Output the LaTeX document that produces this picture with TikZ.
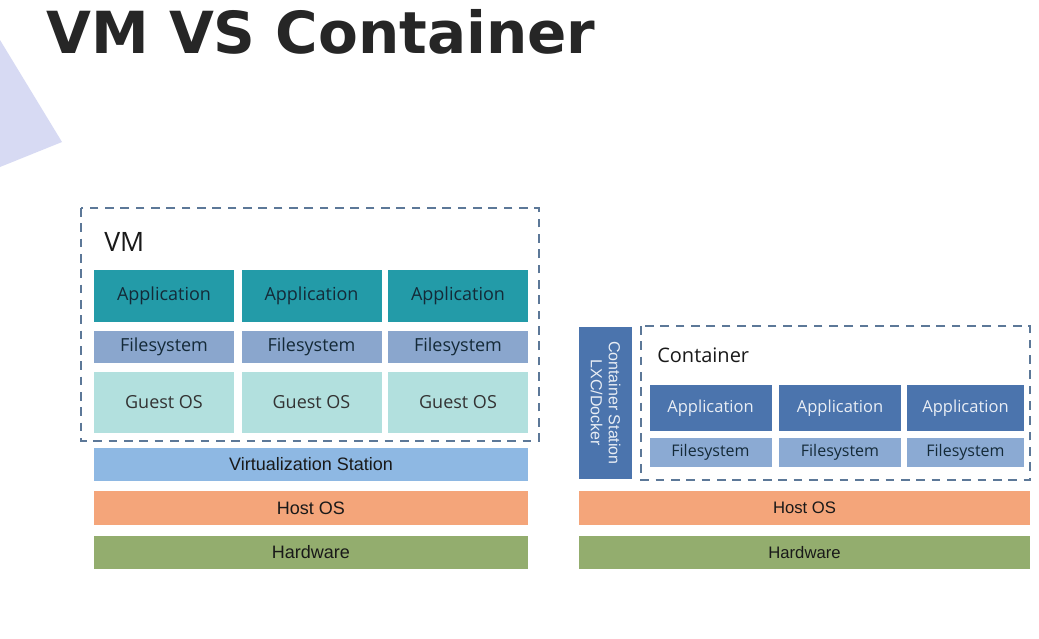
\documentclass[tikz,border=0pt]{standalone}
\usepackage{fontspec}
\setmainfont{Open Sans}
\newfontfamily\titlefont{DejaVu Sans}
\newfontfamily\barfont{Liberation Sans}
\usetikzlibrary{positioning}

\definecolor{apcolor}{HTML}{239BA8}
\definecolor{fscolor}{HTML}{8AA6CD}
\definecolor{oscolor}{HTML}{B2E0DE}
\definecolor{vscolor}{HTML}{8EB8E3}
\definecolor{hostcolor}{HTML}{F4A57A}
\definecolor{hwcolor}{HTML}{93AD6E}
\definecolor{ctcolor}{HTML}{4B74AD}
\definecolor{cfscolor}{HTML}{8BAAD3}
\definecolor{dashcolor}{HTML}{5C7898}
\definecolor{trianglecolor}{HTML}{D7DAF3}
\definecolor{inkcolor}{HTML}{142A38}

\tikzset{
  layer/.style={rectangle, inner sep=0pt, outer sep=0pt, text=inkcolor},
  vmapp/.style={layer, fill=apcolor, minimum width=105pt, minimum height=39pt, font=\fontsize{13.5}{15}\selectfont},
  vmfs/.style={layer, fill=fscolor, minimum width=105pt, minimum height=24pt, font=\fontsize{13.5}{15}\selectfont},
  vmos/.style={layer, fill=oscolor, minimum width=105pt, minimum height=45.75pt, text=black!80, font=\fontsize{13.5}{15}\selectfont},
  ctapp/.style={layer, fill=ctcolor, minimum height=34.5pt, text=white!88!ctcolor, font=\fontsize{12.4}{14}\selectfont},
  ctfs/.style={layer, fill=cfscolor, minimum height=21.75pt, font=\fontsize{12}{14}\selectfont},
  bar/.style={layer, text=black!90, font=\barfont\fontsize{13.5}{15}\selectfont},
  dashedbox/.style={dashcolor, line width=1.5pt, dash pattern=on 6.5pt off 5pt},
  boxlabel/.style={anchor=west, inner sep=0pt, text=black!90}
}

\begin{document}
\begin{tikzpicture}[x=0.75pt, y=-0.75pt]
  % page
  \fill[white] (0,0) rectangle (1039,639);
  \fill[trianglecolor] (0,40) -- (62,142) -- (0,167) -- cycle;

  % title
  \node[anchor=base west, inner sep=0pt, text=black!85, font=\titlefont\bfseries\fontsize{43.5}{50}\selectfont] (title) at (46,53) {VM VS Container};

  % VM side
  \draw[dashedbox] (81,208) rectangle (539,441);
  \node[boxlabel, font=\fontsize{20}{22}\selectfont] (vmlabel) at (104,242) {VM};

  \foreach \i/\cx in {1/164, 2/311.5, 3/458} {
    \node[vmapp] (vmapp\i) at (\cx,296) {Application};
    \node[vmfs] (vmfs\i) at (\cx,347) {Filesystem};
    \node[vmos] (vmos\i) at (\cx,402.5) {Guest OS};
  }

  \node[bar, fill=vscolor, minimum width=325.5pt, minimum height=24.75pt] (vstation) at (311,464.5) {Virtualization Station};
  \node[bar, fill=hostcolor, minimum width=325.5pt, minimum height=25.5pt] (vmhost) at (311,508) {Host OS};
  \node[bar, fill=hwcolor, minimum width=325.5pt, minimum height=24.75pt] (vmhw) at (311,552.5) {Hardware};

  % Container side
  \node[layer, fill=ctcolor, minimum width=114pt, minimum height=39.75pt, rotate=-90, align=center,
        text=white!88!ctcolor, font=\barfont\fontsize{12}{13.5}\selectfont] (cstation) at (605.5,403) {Container Station\\LXC/Docker};

  \draw[dashedbox] (641,326) rectangle (1030,480);
  \node[boxlabel, font=\fontsize{15}{17}\selectfont] (ctlabel) at (657,355) {Container};

  \foreach \i/\cx/\w in {1/710.5/91.5, 2/840/91.5, 3/965.5/87.75} {
    \node[ctapp, minimum width=\w pt] (ctapp\i) at (\cx,408) {Application};
    \node[ctfs, minimum width=\w pt] (ctfs\i) at (\cx,452.5) {Filesystem};
  }

  \node[bar, fill=hostcolor, minimum width=338.25pt, minimum height=25.5pt, font=\barfont\fontsize{12.5}{14}\selectfont] (cthost) at (804.5,508) {Host OS};
  \node[bar, fill=hwcolor, minimum width=338.25pt, minimum height=24.75pt, font=\barfont\fontsize{12.5}{14}\selectfont] (cthw) at (804.5,552.5) {Hardware};
\end{tikzpicture}
\end{document}
